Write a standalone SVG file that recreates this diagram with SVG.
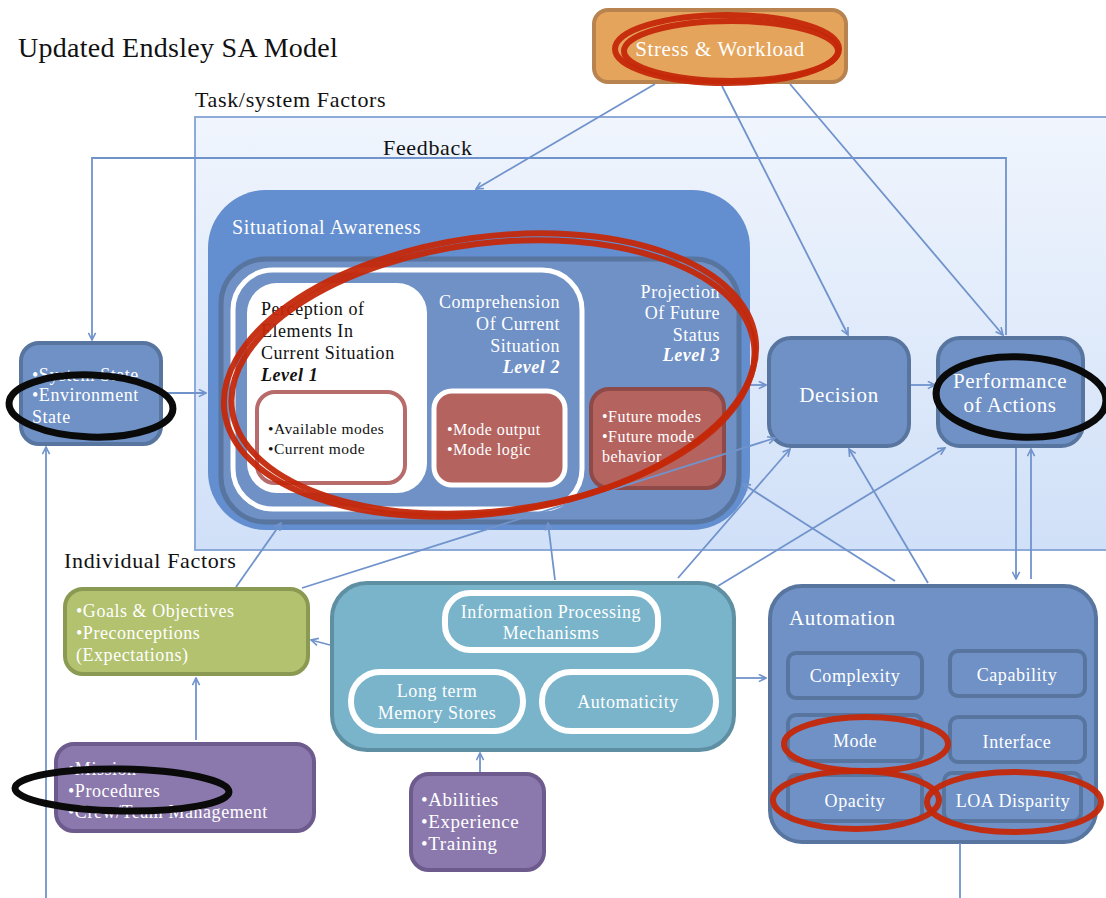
<svg xmlns="http://www.w3.org/2000/svg" width="1106" height="898" viewBox="0 0 1106 898">
<defs>
<linearGradient id="bg" x1="0" y1="0" x2="0" y2="1">
<stop offset="0" stop-color="#f0f5fd"/>
<stop offset="1" stop-color="#d0e0f8"/>
</linearGradient>
<marker id="ah" viewBox="0 0 10 10" refX="9" refY="5" markerWidth="9" markerHeight="9" orient="auto-start-reverse" markerUnits="userSpaceOnUse">
<path d="M1,1 L9,5 L1,9" fill="none" stroke="#7093cc" stroke-width="1.8"/>
</marker>
<style>
.t{font-family:"Liberation Serif","Times New Roman",serif;letter-spacing:0.03em;}
.w{fill:#ffffff;}
.k{fill:#111111;}
.c{stroke:#7093cc;stroke-width:1.8;fill:none;}
.a{marker-end:url(#ah);}
.blue{fill:#6f91c6;stroke:#58759f;stroke-width:4;}
.sub{fill:#6f91c6;stroke:#58759f;stroke-width:4;}
.purple{fill:#8b79ad;stroke:#6d5b8e;stroke-width:4;}
.pill{fill:#7ab4cb;stroke:#ffffff;stroke-width:6;}
.red{fill:none;stroke:#c4280a;stroke-width:6;opacity:0.95;}
.blk{fill:none;stroke:#0a0a0a;stroke-width:7;}
</style>
</defs>
<rect width="1106" height="898" fill="#ffffff"/>

<text class="t k" x="18" y="57" font-size="28" style="letter-spacing:0.01em">Updated Endsley SA Model</text>

<g id="task-system-factors">
<rect x="195" y="117" width="915" height="433" fill="url(#bg)" stroke="#8eaad8" stroke-width="2"/>
<text class="t k" x="195" y="107" font-size="22">Task/system Factors</text>
</g>
<text class="t k" x="383" y="155" font-size="22">Feedback</text>
<text class="t k" x="64" y="568" font-size="22">Individual Factors</text>

<g id="stress-workload">
<rect x="594" y="10" width="252" height="72" rx="14" fill="#e5a45c" stroke="#b8834e" stroke-width="4"/>
<text class="t w" x="720" y="56" font-size="21" text-anchor="middle">Stress &amp; Workload</text>
</g>

<g id="situational-awareness">
<rect x="208" y="190" width="542" height="340" rx="58" fill="#638ecf"/>
<text class="t w" x="232" y="234" font-size="20">Situational Awareness</text>
<rect x="221" y="259" width="518" height="263" rx="45" fill="#6f91c6" stroke="#58759f" stroke-width="5"/>
<text class="t w" font-size="18" text-anchor="end"><tspan x="720" y="298">Projection</tspan><tspan x="720" y="319">Of Future</tspan><tspan x="720" y="341">Status</tspan><tspan x="720" y="361" font-weight="bold" font-style="italic">Level 3</tspan></text>
<rect x="591" y="389" width="133" height="99" rx="18" fill="#b5635f" stroke="#8e4a48" stroke-width="4"/>
<text class="t w" font-size="16"><tspan x="602" y="422">•Future modes</tspan><tspan x="602" y="442">•Future mode</tspan><tspan x="602" y="462">behavior</tspan></text>
<rect x="233" y="270" width="349" height="239" rx="40" fill="#6f91c6" stroke="#ffffff" stroke-width="5"/>
<text class="t w" font-size="18" text-anchor="end"><tspan x="560" y="308">Comprehension</tspan><tspan x="560" y="330">Of Current</tspan><tspan x="560" y="352">Situation</tspan><tspan x="560" y="373" font-weight="bold" font-style="italic">Level 2</tspan></text>
<rect x="434" y="391" width="131" height="94" rx="18" fill="#b5635f" stroke="#ffffff" stroke-width="5"/>
<text class="t w" font-size="16"><tspan x="447" y="435">•Mode output</tspan><tspan x="447" y="455">•Mode logic</tspan></text>
<rect x="247" y="283" width="180" height="210" rx="30" fill="#ffffff"/>
<text class="t k" font-size="18"><tspan x="261" y="315">Perception of</tspan><tspan x="261" y="337">Elements In</tspan><tspan x="261" y="359">Current Situation</tspan><tspan x="261" y="381" font-weight="bold" font-style="italic">Level 1</tspan></text>
<rect x="257" y="392" width="148" height="91" rx="18" fill="#ffffff" stroke="#b86b6b" stroke-width="4"/>
<text class="t k" font-size="15.5"><tspan x="268" y="434">•Available modes</tspan><tspan x="268" y="454">•Current mode</tspan></text>
</g>

<g id="system-state">
<rect x="21" y="343" width="140" height="101" rx="18" class="blue"/>
<text class="t w" font-size="18"><tspan x="32" y="381">•System State</tspan><tspan x="32" y="401">•Environment</tspan><tspan x="32" y="423">State</tspan></text>
</g>

<g id="decision">
<rect x="769" y="338" width="140" height="108" rx="22" class="blue"/>
<text class="t w" x="839" y="402" font-size="21" text-anchor="middle">Decision</text>
</g>

<g id="performance">
<rect x="938" y="338" width="145" height="108" rx="22" class="blue"/>
<text class="t w" font-size="21" text-anchor="middle"><tspan x="1010" y="388">Performance</tspan><tspan x="1010" y="412">of Actions</tspan></text>
</g>

<g id="automation">
<rect x="770" y="586" width="326" height="256" rx="32" class="blue"/>
<text class="t w" x="789" y="625" font-size="21">Automation</text>
<rect x="788" y="653" width="134" height="45" rx="8" class="sub"/>
<text class="t w" x="855" y="682" font-size="18" text-anchor="middle">Complexity</text>
<rect x="950" y="651" width="135" height="45" rx="8" class="sub"/>
<text class="t w" x="1017" y="681" font-size="18" text-anchor="middle">Capability</text>
<rect x="788" y="715" width="134" height="46" rx="8" class="sub"/>
<text class="t w" x="855" y="747" font-size="18" text-anchor="middle">Mode</text>
<rect x="950" y="717" width="135" height="45" rx="8" class="sub"/>
<text class="t w" x="1017" y="748" font-size="18" text-anchor="middle">Interface</text>
<rect x="788" y="775" width="134" height="46" rx="8" class="sub"/>
<text class="t w" x="855" y="807" font-size="18" text-anchor="middle">Opacity</text>
<rect x="944" y="773" width="137" height="48" rx="8" class="sub"/>
<text class="t w" x="1013" y="807" font-size="18" text-anchor="middle">LOA Disparity</text>
</g>

<g id="goals">
<rect x="65" y="589" width="243" height="85" rx="18" fill="#b2c26f" stroke="#8a9a52" stroke-width="4"/>
<text class="t w" font-size="18"><tspan x="76" y="617">•Goals &amp; Objectives</tspan><tspan x="76" y="639">•Preconceptions</tspan><tspan x="76" y="661">(Expectations)</tspan></text>
</g>

<g id="information-processing">
<rect x="332" y="583" width="402" height="167" rx="35" fill="#7ab4cb" stroke="#5f8fa3" stroke-width="4"/>
<rect x="445" y="593" width="213" height="57" rx="25" class="pill"/>
<text class="t w" font-size="18" text-anchor="middle"><tspan x="551" y="618">Information Processing</tspan><tspan x="551" y="639">Mechanisms</tspan></text>
<rect x="351" y="672" width="172" height="59" rx="29" class="pill"/>
<text class="t w" font-size="18" text-anchor="middle"><tspan x="437" y="697">Long term</tspan><tspan x="437" y="719">Memory Stores</tspan></text>
<rect x="542" y="672" width="174" height="59" rx="29" class="pill"/>
<text class="t w" x="628" y="708" font-size="18" text-anchor="middle">Automaticity</text>
</g>

<g id="abilities">
<rect x="411" y="774" width="133" height="96" rx="18" class="purple"/>
<text class="t w" font-size="19"><tspan x="421" y="806">•Abilities</tspan><tspan x="421" y="828">•Experience</tspan><tspan x="421" y="850">•Training</tspan></text>
</g>

<g id="mission">
<rect x="56" y="744" width="258" height="87" rx="18" class="purple"/>
<text class="t w" font-size="18"><tspan x="68" y="775">•Mission</tspan><tspan x="68" y="797">•Procedures</tspan><tspan x="68" y="818">•Crew/Team Management</tspan></text>
</g>

<g id="connectors">
<polyline class="c a" points="1006,335 1006,158 92,158 92,340"/>
<line class="c a" x1="655" y1="84" x2="476" y2="189"/>
<line class="c a" x1="722" y1="86" x2="848" y2="335"/>
<line class="c a" x1="790" y1="84" x2="1003" y2="335"/>
<line class="c a" x1="163" y1="393" x2="206" y2="393"/>
<line class="c a" x1="742" y1="385" x2="766" y2="385"/>
<line class="c a" x1="911" y1="385" x2="935" y2="385"/>
<line class="c a" x1="1016" y1="448" x2="1016" y2="579"/>
<line class="c a" x1="1031" y1="579" x2="1031" y2="449"/>
<line class="c a" x1="236" y1="587" x2="281" y2="523"/>
<line class="c a" x1="302" y1="588" x2="775" y2="438"/>
<line class="c a" x1="330" y1="645" x2="311" y2="640"/>
<line class="c a" x1="555" y1="580" x2="548" y2="523"/>
<line class="c a" x1="678" y1="578" x2="790" y2="449"/>
<line class="c a" x1="718" y1="586" x2="945" y2="448"/>
<line class="c a" x1="736" y1="678" x2="766" y2="678"/>
<line class="c a" x1="895" y1="581" x2="743" y2="484"/>
<line class="c a" x1="928" y1="583" x2="849" y2="449"/>
<line class="c a" x1="480" y1="772" x2="480" y2="753"/>
<line class="c a" x1="196" y1="740" x2="196" y2="678"/>
<line class="c a" x1="46" y1="898" x2="46" y2="447"/>
<line class="c" x1="960" y1="843" x2="960" y2="898"/>
</g>

<g id="annotations">
<ellipse class="red" cx="727" cy="49" rx="112" ry="34"/>
<ellipse class="red" cx="731" cy="51" rx="107" ry="30" stroke-width="3"/>
<ellipse class="red" cx="490" cy="375" rx="268" ry="138" transform="rotate(-8 490 375)"/>
<ellipse class="red" cx="493" cy="377" rx="263" ry="134" transform="rotate(-7 493 377)" stroke-width="3"/>
<ellipse class="red" cx="866" cy="744" rx="82" ry="27"/>
<ellipse class="red" cx="856" cy="800" rx="83" ry="29"/>
<ellipse class="red" cx="1014" cy="802" rx="87" ry="30"/>
<ellipse class="blk" cx="91" cy="406" rx="82" ry="31" transform="rotate(2 91 406)"/>
<ellipse class="blk" cx="1021" cy="397" rx="85" ry="40" transform="rotate(3 1021 397)"/>
<ellipse class="blk" cx="122" cy="790" rx="107" ry="21" transform="rotate(1 122 790)"/>
</g>
</svg>
